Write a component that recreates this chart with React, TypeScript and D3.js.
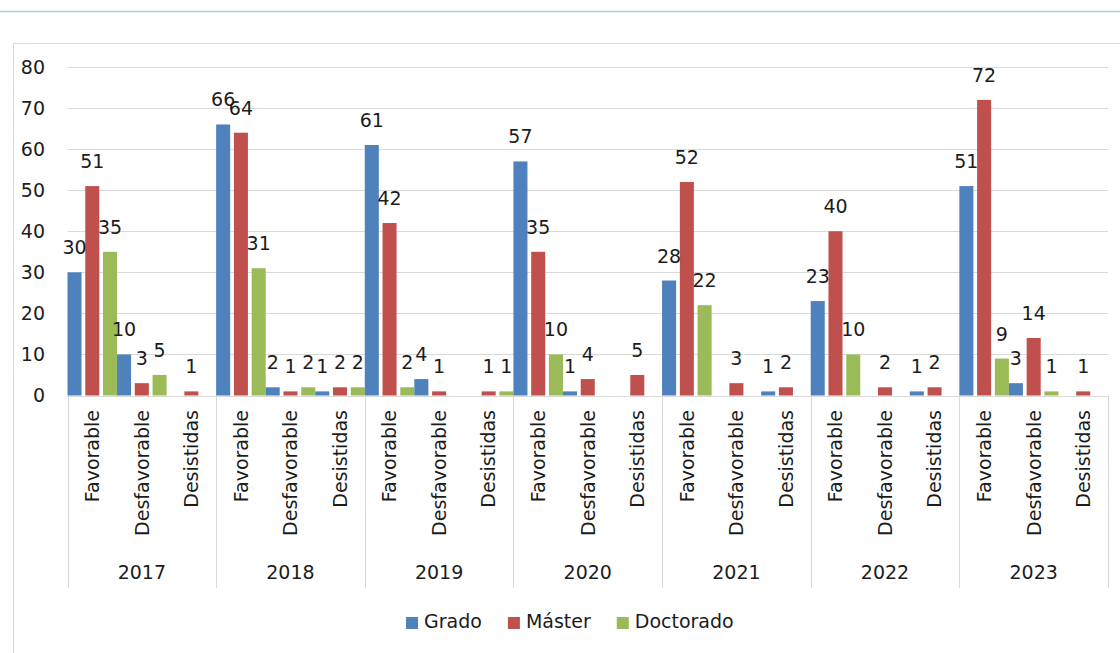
import React, { useEffect, useRef } from "react"
import * as d3 from "d3"

const years = ["2017", "2018", "2019", "2020", "2021", "2022", "2023"]
const outcomes = ["Favorable", "Desfavorable", "Desistidas"]
const seriesNames = ["Grado", "Máster", "Doctorado"]
const seriesColors = ["#4F81BD", "#C0504D", "#9BBB59"]

// one value per year x outcome, in the order of the axis
const grado = [30, 10, 0, 66, 2, 1, 61, 4, 0, 57, 1, 0, 28, 0, 1, 23, 0, 1, 51, 3, 0]
const master = [51, 3, 1, 64, 1, 2, 42, 1, 1, 35, 4, 5, 52, 3, 2, 40, 2, 2, 72, 14, 1]
const doctorado = [35, 5, 0, 31, 2, 2, 2, 0, 1, 10, 0, 0, 22, 0, 0, 10, 0, 0, 9, 1, 0]
const yTicks = [0, 10, 20, 30, 40, 50, 60, 70, 80]

const W = 1120, H = 653
const FONT = "'DejaVu Sans', Verdana, sans-serif"
const FS = 19
const TXT = "#1c1c1c"

export default function App() {
  const ref = useRef<SVGSVGElement>(null)

  useEffect(() => {
    document.body.style.margin = "0"
    const svg = d3.select(ref.current)
    svg.selectAll("*").remove()

    const plot = { left: 67.5, right: 1108, top: 67, bottom: 395.5 }

    const cats = years.flatMap(yr => outcomes.map(o => `${yr}|${o}`))
    const values = [grado, master, doctorado]
    const rows = cats.map((c, i) => ({ cat: c, vals: values.map(v => v[i]) }))

    const x0 = d3.scaleBand().domain(cats).range([plot.left, plot.right]).padding(0)
    const x1 = d3.scaleBand().domain(seriesNames).range([0, x0.bandwidth()])
      .paddingInner(0.21).paddingOuter(0)
    const xYear = d3.scaleBand().domain(years).range([plot.left, plot.right]).padding(0)
    const y = d3.scaleLinear().domain([0, 80]).range([plot.bottom, plot.top])

    // top rule and chart frame
    svg.append("line")
      .attr("x1", 0).attr("x2", W).attr("y1", 11.5).attr("y2", 11.5)
      .attr("stroke", "#b4c7e7").attr("stroke-width", 1.5)
    svg.append("rect")
      .attr("x", 13.5).attr("y", 43.5).attr("width", W).attr("height", H)
      .attr("fill", "white").attr("stroke", "#d9d9d9")

    // gridlines + y labels
    const g = svg.append("g")
    g.selectAll("line.grid")
      .data(yTicks)
      .join("line")
      .attr("class", "grid")
      .attr("x1", plot.left).attr("x2", plot.right)
      .attr("y1", d => Math.round(y(d)) + 0.5).attr("y2", d => Math.round(y(d)) + 0.5)
      .attr("stroke", "#d9d9d9")
    g.selectAll("text.ytick")
      .data(yTicks)
      .join("text")
      .attr("class", "ytick")
      .attr("x", 45).attr("y", d => y(d)).attr("dy", "0.36em")
      .attr("text-anchor", "end")
      .attr("font-family", FONT).attr("font-size", FS).attr("fill", TXT)
      .text(d => d)

    // year dividers
    const edges = years.map(yr => xYear(yr) as number).concat([plot.right])
    g.selectAll("line.div")
      .data(edges)
      .join("line")
      .attr("class", "div")
      .attr("x1", d => Math.round(d) + 0.5).attr("x2", d => Math.round(d) + 0.5)
      .attr("y1", plot.bottom).attr("y2", 588)
      .attr("stroke", "#d9d9d9")

    // bars
    const groups = svg.append("g").selectAll("g")
      .data(rows)
      .join("g")
      .attr("transform", d => `translate(${x0(d.cat)},0)`)

    groups.selectAll("rect")
      .data(d => d.vals.map((v, i) => ({ v, s: seriesNames[i], c: seriesColors[i] })))
      .join("rect")
      .attr("x", d => x1(d.s) as number)
      .attr("width", x1.bandwidth())
      .attr("y", d => y(d.v))
      .attr("height", d => y(0) - y(d.v))
      .attr("fill", d => d.c)

    groups.selectAll("text")
      .data(d => d.vals.map((v, i) => ({ v, s: seriesNames[i] })).filter(d => d.v > 0))
      .join("text")
      .attr("x", d => (x1(d.s) as number) + x1.bandwidth() / 2)
      .attr("y", d => y(d.v) - 18)
      .attr("text-anchor", "middle")
      .attr("font-family", FONT).attr("font-size", FS).attr("fill", TXT)
      .text(d => d.v)

    // category labels
    svg.append("g").selectAll("text")
      .data(cats)
      .join("text")
      .attr("transform", d => `translate(${(x0(d) as number) + x0.bandwidth() / 2},410) rotate(-90)`)
      .attr("dy", "0.36em")
      .attr("text-anchor", "end")
      .attr("font-family", FONT).attr("font-size", FS).attr("fill", TXT)
      .text(d => d.split("|")[1])

    svg.append("g").selectAll("text")
      .data(years)
      .join("text")
      .attr("x", d => (xYear(d) as number) + xYear.bandwidth() / 2)
      .attr("y", 572.5).attr("dy", "0.36em")
      .attr("text-anchor", "middle")
      .attr("font-family", FONT).attr("font-size", FS).attr("fill", TXT)
      .text(d => d)

    // legend
    const leg = svg.append("g")
    let lx = 406
    seriesNames.forEach((name, i) => {
      leg.append("rect")
        .attr("x", lx).attr("y", 617).attr("width", 12).attr("height", 12)
        .attr("fill", seriesColors[i])
      const t = leg.append("text")
        .attr("x", lx + 18).attr("y", 628)
        .attr("font-family", FONT).attr("font-size", FS).attr("fill", TXT)
        .text(name)
      const tw = (t.node() as SVGTextElement).getComputedTextLength()
      lx += 18 + tw + 26
    })
  }, [])

  return (
    <div>
      <svg ref={ref} width={W} height={H} style={{ display: "block", background: "white" }} />
    </div>
  )
}
